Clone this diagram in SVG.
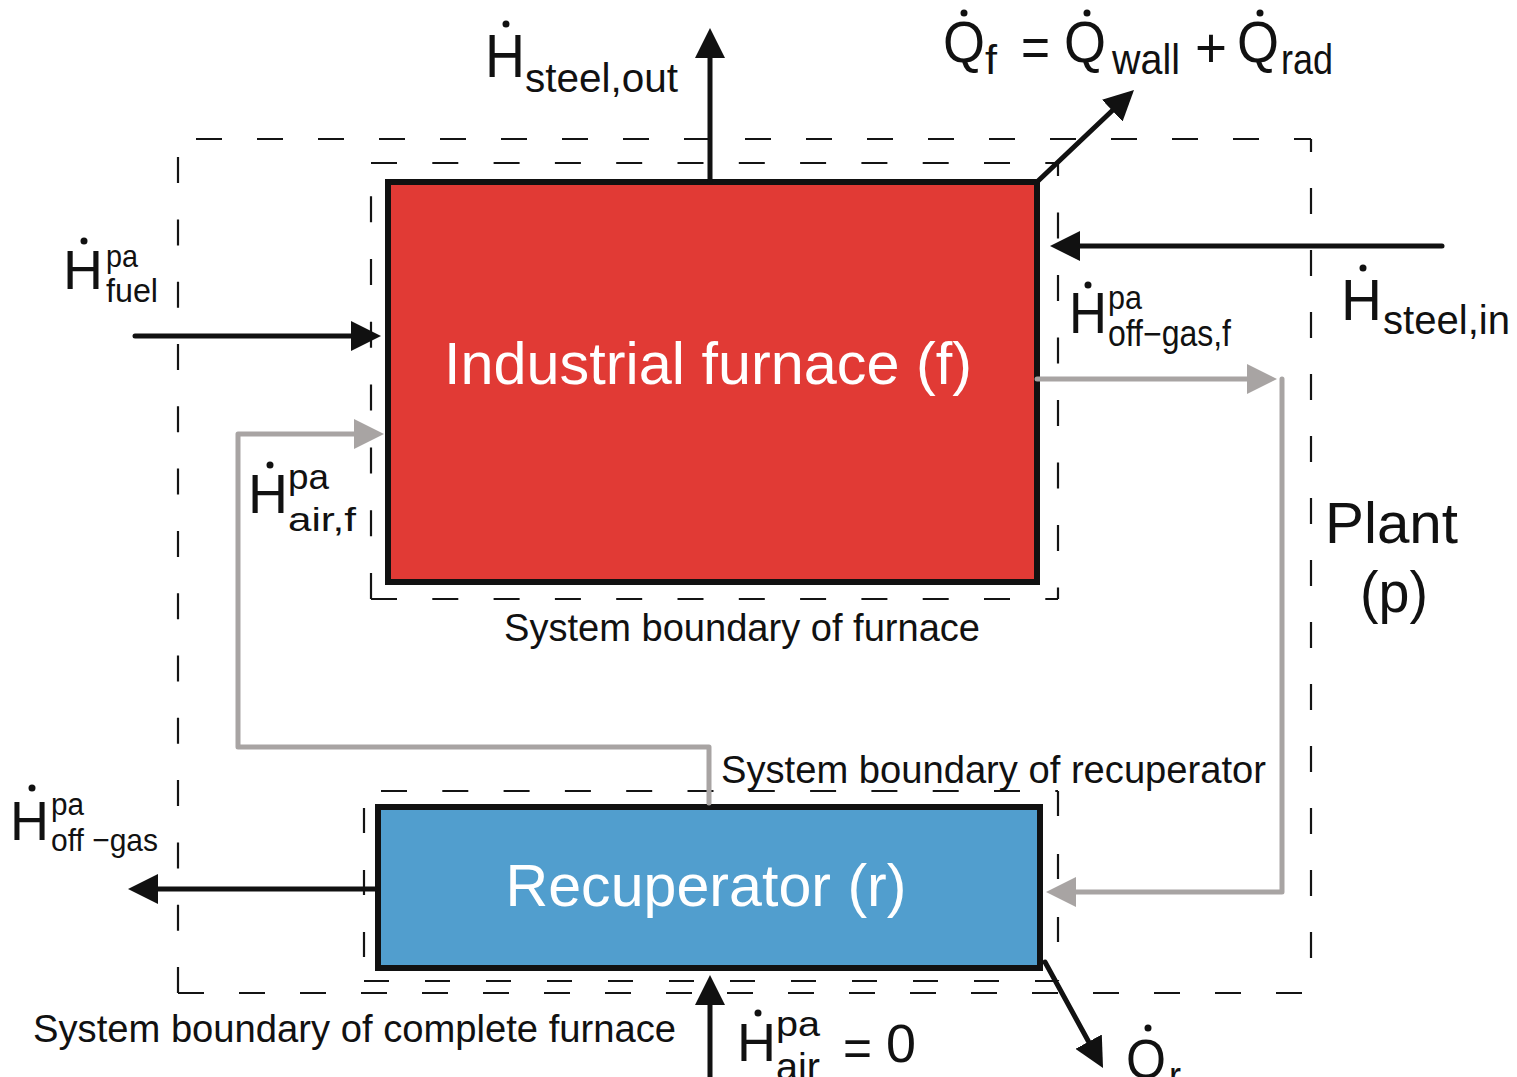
<svg xmlns="http://www.w3.org/2000/svg" width="1517" height="1077" viewBox="0 0 1517 1077">
<defs>
<style>
.bd{fill:none;stroke:#141414;stroke-width:2.2}
.blk{fill:none;stroke:#111;stroke-width:5;stroke-linecap:round;stroke-linejoin:round}
.gry{fill:none;stroke:#A8A4A3;stroke-width:5;stroke-linecap:round;stroke-linejoin:round}
.t{font-family:"Liberation Sans",Arial,Helvetica,sans-serif;fill:#111}
.w{font-family:"Liberation Sans",Arial,Helvetica,sans-serif;fill:#fff}
.dot{fill:#111}
</style>
<marker id="ab" viewBox="0 0 30 30" refX="22" refY="15" markerWidth="30" markerHeight="30" markerUnits="userSpaceOnUse" orient="auto"><path d="M0,0 L30,15 L0,30 z" fill="#111"/></marker>
<marker id="ag" viewBox="0 0 30 30" refX="22" refY="15" markerWidth="30" markerHeight="30" markerUnits="userSpaceOnUse" orient="auto"><path d="M0,0 L30,15 L0,30 z" fill="#A8A4A3"/></marker>
</defs>
<rect width="1517" height="1077" fill="#fff"/>

<g id="boundaries">
<path class="bd" d="M196,139 H1311" stroke-dasharray="26 35"/>
<path class="bd" d="M1311,139 V993" stroke-dasharray="26 36" stroke-dashoffset="13"/>
<path class="bd" d="M178,993 V139" stroke-dasharray="26 36.3"/>
<path class="bd" d="M178,993 H1311" stroke-dasharray="26 35"/>
<path class="bd" d="M371,163 H1058" stroke-dasharray="26 35.3"/>
<path class="bd" d="M1058,163 V599" stroke-dasharray="26 36.5" stroke-dashoffset="13"/>
<path class="bd" d="M371,599 V163" stroke-dasharray="26 36.8"/>
<path class="bd" d="M371,599 H1058" stroke-dasharray="26 35.3"/>
<path class="bd" d="M381,791 H1058" stroke-dasharray="26 35.3"/>
<path class="bd" d="M1058,791 V981" stroke-dasharray="25 38"/>
<path class="bd" d="M364,808 V981" stroke-dasharray="25 37"/>
<path class="bd" d="M364,981 H1058" stroke-dasharray="25 36"/>
</g>

<g id="furnace">
<rect x="388" y="182" width="649" height="400" fill="#E13A35" stroke="#111" stroke-width="6"/>
<text class="w" x="708" y="384" font-size="60" text-anchor="middle" textLength="528" lengthAdjust="spacingAndGlyphs">Industrial furnace (f)</text>
</g>

<g id="recuperator">
<rect x="378" y="807" width="662" height="161" fill="#519ECE" stroke="#111" stroke-width="6"/>
<text class="w" x="706" y="906" font-size="60" text-anchor="middle" textLength="401" lengthAdjust="spacingAndGlyphs">Recuperator (r)</text>
</g>

<g id="connectors">
<path class="blk" d="M710,181 V36" marker-end="url(#ab)"/>
<path class="blk" d="M1038,181 L1128.2,95.5" marker-end="url(#ab)"/>
<path class="blk" d="M1442,246 H1058" marker-end="url(#ab)"/>
<path class="blk" d="M135,336 H373" marker-end="url(#ab)"/>
<path class="gry" d="M709,803 V747 H238 V434 H376" marker-end="url(#ag)"/>
<path class="gry" d="M1037,379 H1269" marker-end="url(#ag)"/>
<path class="gry" d="M1282,379 V892 H1054" marker-end="url(#ag)"/>
<path class="blk" d="M376,889 H136" marker-end="url(#ab)"/>
<path class="blk" d="M710,1080 V983" marker-end="url(#ab)"/>
<path class="blk" d="M1045,962 L1099.2,1061" marker-end="url(#ab)"/>
</g>

<g id="labels">
<text class="t" x="504" y="641" font-size="38" textLength="476" lengthAdjust="spacingAndGlyphs">System boundary of furnace</text>
<text class="t" x="721" y="783" font-size="38" textLength="545" lengthAdjust="spacingAndGlyphs">System boundary of recuperator</text>
<text class="t" x="33" y="1042" font-size="38" textLength="643" lengthAdjust="spacingAndGlyphs">System boundary of complete furnace</text>
<text class="t" x="1325" y="543" font-size="57" textLength="133" lengthAdjust="spacingAndGlyphs">Plant</text>
<text class="t" x="1360" y="612" font-size="58" textLength="68" lengthAdjust="spacingAndGlyphs">(p)</text>
</g>

<g id="label-steel-out">
<circle class="dot" cx="506" cy="24" r="3.5"/>
<text class="t" x="485" y="77" font-size="62" textLength="40" lengthAdjust="spacingAndGlyphs">H</text>
<text class="t" x="525" y="92" font-size="41" textLength="153" lengthAdjust="spacingAndGlyphs">steel,out</text>
</g>

<g id="label-qf">
<circle class="dot" cx="964" cy="13" r="3.5"/>
<circle class="dot" cx="1087" cy="13" r="3.5"/>
<circle class="dot" cx="1260" cy="13" r="3.5"/>
<text class="t" x="943" y="62" font-size="57" textLength="42" lengthAdjust="spacingAndGlyphs">Q</text>
<text class="t" x="985" y="74" font-size="40" textLength="12" lengthAdjust="spacingAndGlyphs">f</text>
<text class="t" x="1021" y="66" font-size="56" textLength="29" lengthAdjust="spacingAndGlyphs">=</text>
<text class="t" x="1064" y="62" font-size="57" textLength="42" lengthAdjust="spacingAndGlyphs">Q</text>
<text class="t" x="1112" y="74" font-size="42" textLength="68" lengthAdjust="spacingAndGlyphs">wall</text>
<text class="t" x="1195" y="67" font-size="56" textLength="32" lengthAdjust="spacingAndGlyphs">+</text>
<text class="t" x="1237" y="62" font-size="57" textLength="42" lengthAdjust="spacingAndGlyphs">Q</text>
<text class="t" x="1281" y="74" font-size="42" textLength="52" lengthAdjust="spacingAndGlyphs">rad</text>
</g>

<g id="label-fuel">
<circle class="dot" cx="84" cy="241" r="3.5"/>
<text class="t" x="63" y="289" font-size="56" textLength="40" lengthAdjust="spacingAndGlyphs">H</text>
<text class="t" x="106" y="267" font-size="32" textLength="32" lengthAdjust="spacingAndGlyphs">pa</text>
<text class="t" x="106" y="302" font-size="33" textLength="52" lengthAdjust="spacingAndGlyphs">fuel</text>
</g>

<g id="label-air-f">
<circle class="dot" cx="270" cy="465" r="3.5"/>
<text class="t" x="248" y="513" font-size="55" textLength="40" lengthAdjust="spacingAndGlyphs">H</text>
<text class="t" x="288" y="489" font-size="35" textLength="41" lengthAdjust="spacingAndGlyphs">pa</text>
<text class="t" x="288" y="531" font-size="34" textLength="68" lengthAdjust="spacingAndGlyphs">air,f</text>
</g>

<g id="label-offgas-f">
<circle class="dot" cx="1088" cy="285" r="3.5"/>
<text class="t" x="1069" y="333" font-size="57" textLength="38" lengthAdjust="spacingAndGlyphs">H</text>
<text class="t" x="1108" y="309" font-size="33" textLength="34" lengthAdjust="spacingAndGlyphs">pa</text>
<text class="t" x="1108" y="346" font-size="36" textLength="123" lengthAdjust="spacingAndGlyphs">off−gas,f</text>
</g>

<g id="label-steel-in">
<circle class="dot" cx="1363" cy="268" r="3.5"/>
<text class="t" x="1341" y="320" font-size="58" textLength="41" lengthAdjust="spacingAndGlyphs">H</text>
<text class="t" x="1383" y="334" font-size="41" textLength="127" lengthAdjust="spacingAndGlyphs">steel,in</text>
</g>

<g id="label-offgas">
<circle class="dot" cx="32" cy="788" r="3.5"/>
<text class="t" x="10" y="840" font-size="55" textLength="39" lengthAdjust="spacingAndGlyphs">H</text>
<text class="t" x="51" y="815" font-size="31" textLength="33" lengthAdjust="spacingAndGlyphs">pa</text>
<text class="t" x="51" y="851" font-size="32" textLength="107" lengthAdjust="spacingAndGlyphs">off −gas</text>
</g>

<g id="label-air">
<circle class="dot" cx="758" cy="1013" r="3.5"/>
<text class="t" x="737" y="1061" font-size="54" textLength="39" lengthAdjust="spacingAndGlyphs">H</text>
<text class="t" x="776" y="1036" font-size="35" textLength="44" lengthAdjust="spacingAndGlyphs">pa</text>
<text class="t" x="776" y="1080" font-size="38" textLength="44" lengthAdjust="spacingAndGlyphs">air</text>
<text class="t" x="843" y="1066" font-size="52" textLength="29" lengthAdjust="spacingAndGlyphs">=</text>
<text class="t" x="886" y="1062" font-size="54" textLength="30" lengthAdjust="spacingAndGlyphs">0</text>
</g>

<g id="label-qr">
<circle class="dot" cx="1148" cy="1028" r="3.5"/>
<text class="t" x="1126" y="1078" font-size="55" textLength="40" lengthAdjust="spacingAndGlyphs">Q</text>
<text class="t" x="1169" y="1090" font-size="40" textLength="12" lengthAdjust="spacingAndGlyphs">r</text>
</g>
</svg>
